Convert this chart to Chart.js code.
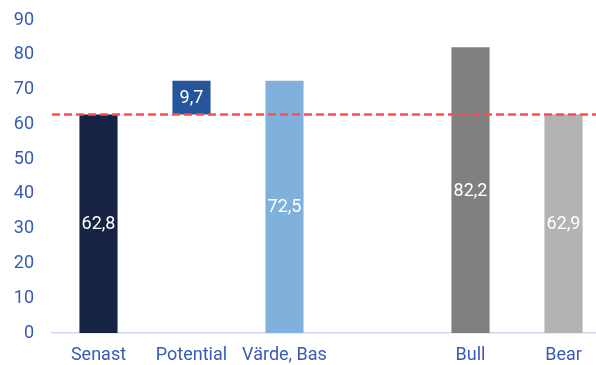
<!DOCTYPE html>
<html>
<head>
<meta charset="utf-8">
<script src="https://cdn.jsdelivr.net/npm/chart.js@4"></script>
<style>
  html, body { margin: 0; padding: 0; background: #fff; overflow: hidden; }
  #wrap { width: 610px; height: 365px; }
</style>
</head>
<body>
<div id="wrap"><canvas id="valuationChart"></canvas></div>
<script>
// Data
const categories = ['Senast', 'Potential', 'Värde, Bas', '', 'Bull', 'Bear'];
const lastPrice = 62.8;
const baseValue = 72.5;
const bullValue = 82.2;
const bearValue = 62.9;
const barValues = [lastPrice, [lastPrice, baseValue], baseValue, null, bullValue, bearValue];
const barColors = ['#172345', '#27559b', '#80b1dc', '#ffffff', '#808080', '#b3b3b3'];
const yTicks = [0, 10, 20, 30, 40, 50, 60, 70, 80, 90];

const tickBlue = '#3a5bb5';

// White value labels in the middle of each bar
const barLabels = {
    id: 'barLabels',
    afterDatasetsDraw(chart) {
        const ctx = chart.ctx;
        const meta = chart.getDatasetMeta(0);
        ctx.save();
        ctx.font = '18px Roboto';
        ctx.fillStyle = '#ffffff';
        ctx.textAlign = 'center';
        ctx.textBaseline = 'middle';
        meta.data.forEach((bar, i) => {
            const v = barValues[i];
            if (v === null) return;
            const num = Array.isArray(v) ? v[1] - v[0] : v;
            const txt = num.toFixed(1).replace('.', ',');
            const { x, y, base } = bar.getProps(['x', 'y', 'base'], true);
            ctx.fillText(txt, x, (y + base) / 2 + 1);
        });
        ctx.restore();
    }
};

// Red dashed reference line at the last price
const refLine = {
    id: 'refLine',
    afterDatasetsDraw(chart) {
        const ctx = chart.ctx;
        const y = chart.scales.y.getPixelForValue(lastPrice);
        ctx.save();
        ctx.strokeStyle = '#ff4d4d';
        ctx.lineWidth = 2.5;
        ctx.setLineDash([8, 4]);
        ctx.beginPath();
        ctx.moveTo(chart.chartArea.left, y);
        ctx.lineTo(chart.chartArea.right, y);
        ctx.stroke();
        ctx.restore();
    }
};

const ctx = document.getElementById('valuationChart').getContext('2d');
const valuationChart = new Chart(ctx, {
    type: 'bar',
    data: {
        labels: categories,
        datasets: [{
            data: barValues,
            backgroundColor: barColors,
            barPercentage: 0.82,
            categoryPercentage: 0.5
        }]
    },
    options: {
        responsive: true,
        maintainAspectRatio: false,
        animation: false,
        layout: { padding: { top: 20, left: 0, right: 0, bottom: 0 } },
        scales: {
            y: {
                min: 0,
                max: 90,
                afterBuildTicks: axis => { axis.ticks = yTicks.map(v => ({ value: v })); },
                afterFit: axis => { axis.width = 52; axis.paddingTop = 0; axis.paddingBottom = 0; },
                grid: { display: false, drawTicks: false },
                border: { display: false },
                ticks: { color: tickBlue, font: { family: 'Roboto', size: 18 }, padding: 18 }
            },
            x: {
                afterFit: axis => { axis.height = 32; },
                grid: { display: false, drawTicks: false },
                border: { display: true, color: '#d0d8ee', width: 1.5 },
                ticks: { color: tickBlue, font: { family: 'Roboto', size: 18 }, padding: 12, maxRotation: 0, autoSkip: false }
            }
        },
        plugins: {
            legend: { display: false },
            tooltip: { enabled: false }
        }
    },
    plugins: [barLabels, refLine]
});
</script>
</body>
</html>
